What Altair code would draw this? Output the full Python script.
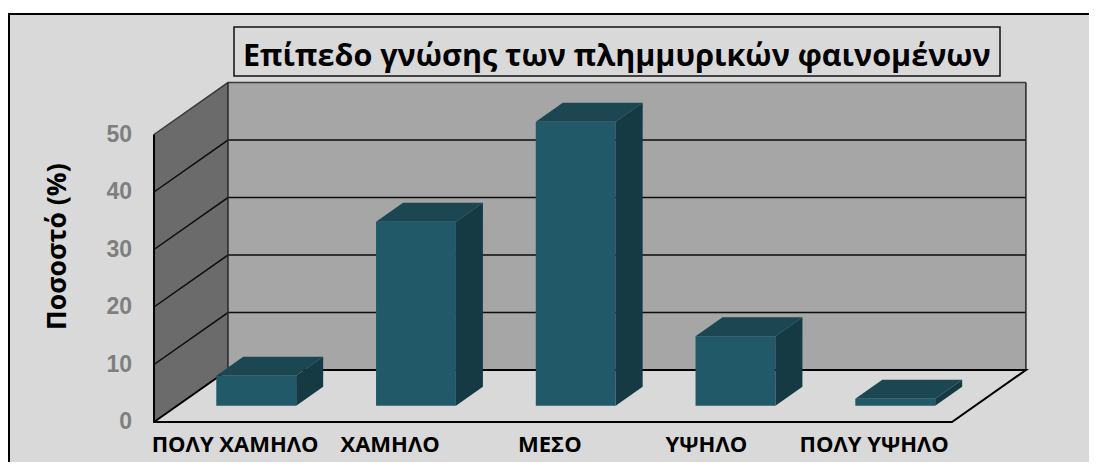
import altair as alt
import pandas as pd

categories = ["ΠΟΛΥ ΧΑΜΗΛΟ", "ΧΑΜΗΛΟ", "ΜΕΣΟ", "ΥΨΗΛΟ", "ΠΟΛΥ ΥΨΗΛΟ"]
values = [5.2, 32.0, 49.4, 12.1, 1.2]
ticks = [0, 10, 20, 30, 40, 50]
label_shift = [0.0, -0.03, -0.03, -0.05, 0.0]
title = "Επίπεδο γνώσης των πλημμυρικών φαινομένων"
ytitle = "Ποσοστό (%)"

# oblique projection constants (category units / percent units)
DX, DY = 0.463, 9.04
W = 4.995
BAR_L, BAR_W = 0.245, 0.5
D0, D1 = 0.313, 0.678

PX_X, PX_Y = 159.75, 5.75
w, h = 1081, 454
xs = alt.Scale(domain=[(8 - 154) / PX_X, (8 + w - 154) / PX_X], nice=False, zero=False)
ys = alt.Scale(domain=[(422 - 8 - h) / PX_Y, (422 - 8) / PX_Y], nice=False, zero=False)
X = lambda f="x": alt.X(f"{f}:Q", scale=xs, axis=None)
Y = lambda f="y": alt.Y(f"{f}:Q", scale=ys, axis=None)


def area_layer(rows, color):
    return alt.Chart(pd.DataFrame(rows)).mark_area(
        color=color, orient="vertical", opacity=1, interpolate="linear"
    ).encode(x=X(), y=Y(), y2=alt.Y2("y2:Q"), detail="k:N")


def line_layer(rows, color, width):
    return alt.Chart(pd.DataFrame(rows)).mark_line(
        color=color, strokeWidth=width, interpolate="linear"
    ).encode(x=X(), y=Y(), detail="k:N", order=alt.Order("i:Q"))


def poly(k, pts):
    return [{"k": k, "x": p[0], "y": p[1], "y2": p[2]} for p in pts]


def path(k, pts):
    return [{"k": k, "i": i, "x": p[0], "y": p[1]} for i, p in enumerate(pts)]


one = pd.DataFrame({"a": [0]})
bg = alt.Chart(one).mark_rect(color="#d9d9d9").encode(
    x=alt.value(1), x2=alt.value(w), y=alt.value(6), y2=alt.value(h)
)
frame_top = alt.Chart(one).mark_rule(color="black", strokeWidth=2).encode(
    x=alt.value(0), x2=alt.value(w), y=alt.value(6)
)
frame_left = alt.Chart(one).mark_rule(color="black", strokeWidth=2).encode(
    x=alt.value(1), y=alt.value(5), y2=alt.value(h)
)
title_box = alt.Chart(one).mark_rect(
    fill="#d9d9d9", stroke="#111111", strokeWidth=1.5
).encode(x=alt.value(226), x2=alt.value(992), y=alt.value(19), y2=alt.value(68))

# walls
back_wall = area_layer(poly("b", [(DX, DY, 50 + DY), (DX + W, DY, 50 + DY)]), "#a6a6a6")
left_wall = area_layer(poly("l", [(0, 0, 50), (DX, DY, 50 + DY)]), "#6b6b6b")

# wall lines
grid = []
for t in ticks[1:-1]:
    grid += path(f"g{t}", [(0, t), (DX, t + DY), (DX + W, t + DY)])
grid_lines = line_layer(grid, "#0d0d0d", 1.5)
top_lines = line_layer(path("t", [(0, 50), (DX, 50 + DY), (DX + W, 50 + DY)]), "#3a3a3a", 1.5)
back_verts = line_layer(
    path("v1", [(DX, DY), (DX, 50 + DY)]) + path("v2", [(DX + W, DY), (DX + W, 50 + DY)]), "#262626", 1.5
)
floor = line_layer(
    path("f", [(0, 50), (0, 0), (W, 0), (W + DX, DY), (DX, DY), (0, 0)]), "#000000", 2
)

# bars
front, side, top = [], [], []
for i, v in enumerate(values):
    x0 = i + BAR_L + D0 * DX
    x1 = x0 + BAR_W
    base = D0 * DY
    dd = (D1 - D0) * DX
    dv = (D1 - D0) * DY
    t = base + v
    front += poly(f"b{i}", [(x0, base, t), (x1, base, t)])
    side += poly(f"b{i}", [(x1, base, t), (x1 + dd, base + dv, t + dv)])
    top += poly(f"b{i}", [(x0, t, t), (x0 + dd, t, t + dv), (x1, t, t + dv), (x1 + dd, t + dv, t + dv)])
front_l = area_layer(front, "#215968")
side_l = area_layer(side, "#153a44")
top_l = area_layer(top, "#1b4652")

# texts
tick_df = pd.DataFrame({"x": [-22 / PX_X] * len(ticks), "y": ticks, "t": [str(t) for t in ticks]})
tick_text = alt.Chart(tick_df).mark_text(
    align="right", baseline="middle", font="Liberation Sans", fontWeight="bold", fontSize=23, color="#7f7f7f"
).encode(x=X(), y=Y(), text="t:N")

cat_df = pd.DataFrame({
    "x": [i + 0.508 + s for i, s in enumerate(label_shift)],
    "y": [-4.0] * 5,
    "t": categories,
})
cat_text = alt.Chart(cat_df).mark_text(
    align="center", baseline="middle", font="Open Sans", fontWeight="bold", fontSize=22, color="black"
).encode(x=X(), y=Y(), text="t:N")

ytitle_df = pd.DataFrame({"x": [-96 / PX_X], "y": [30.5], "t": [ytitle]})
ytitle_text = alt.Chart(ytitle_df).mark_text(
    align="center", baseline="middle", angle=270, font="Open Sans", fontWeight="bold", fontSize=26.5, color="black"
).encode(x=X(), y=Y(), text="t:N")

chart = alt.layer(
    bg, frame_top, frame_left, title_box,
    back_wall, left_wall, grid_lines, top_lines, back_verts, floor,
    front_l, side_l, top_l,
    tick_text, cat_text, ytitle_text,
).properties(
    width=w, height=h, padding=0,
    autosize=alt.AutoSizeParams(type="none"),
    title=alt.TitleParams(
        text=title, anchor="start", frame="group", dx=235, offset=-88, baseline="alphabetic",
        font="Open Sans", fontWeight="bold", fontSize=30.5, color="black",
    ),
).configure_view(stroke=None)

chart.save("out.html", embed_options={"renderer": "svg", "actions": False})
